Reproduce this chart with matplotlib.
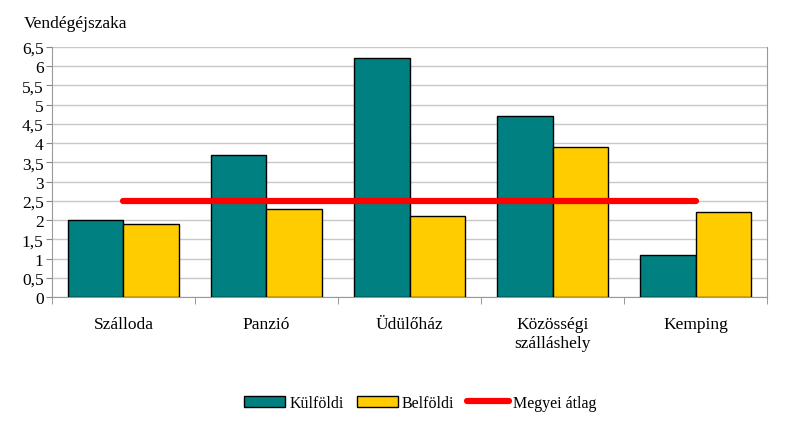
import numpy as np
import matplotlib
matplotlib.use("Agg")
import matplotlib.pyplot as plt

categories = ["Szálloda", "Panzió", "Üdülőház", "Közösségi\nszálláshely", "Kemping"]
kulfoldi = [2.0, 3.7, 6.2, 4.7, 1.1]
belfoldi = [1.9, 2.3, 2.1, 3.9, 2.2]
megyei_atlag = [2.5, 2.5, 2.5, 2.5, 2.5]
yticks = np.arange(0, 6.51, 0.5)

plt.rcParams["font.family"] = ["Liberation Serif", "DejaVu Serif"]
plt.rcParams["font.size"] = 12.5

fig = plt.figure(figsize=(7.91, 4.27), dpi=100)
ax = fig.add_axes([0.0657, 0.302, 0.904, 0.586])

x = np.arange(len(categories))
w = 0.39
b1 = ax.bar(x - w / 2, kulfoldi, w, color="#008080", edgecolor="black", lw=1, label="Külföldi", zorder=3)
b2 = ax.bar(x + w / 2, belfoldi, w, color="#FFCC00", edgecolor="black", lw=1, label="Belföldi", zorder=3)
ln, = ax.plot(x, megyei_atlag, color="#FF0000", lw=4.5, solid_capstyle="round", label="Megyei átlag", zorder=4)

ax.set_xlim(-0.5, len(categories) - 0.5)
ax.set_ylim(0, 6.5)
ax.set_yticks(yticks)
ax.set_yticklabels([f"{v:g}".replace(".", ",") for v in yticks])
ax.set_xticks(x)
ax.set_xticklabels(categories)
ax.set_xticks(np.arange(-0.5, len(categories)), minor=True)
ax.tick_params(axis="x", which="major", length=0, pad=14)
ax.tick_params(axis="x", which="minor", length=5, color="#888888")
ax.tick_params(axis="y", length=4, color="#888888", pad=2)
ax.grid(axis="y", color="#c8c8c8", lw=1, zorder=0)
ax.spines["top"].set_visible(False)
for s in ("left", "right", "bottom"):
    ax.spines[s].set_color("#999999")

ax.text(-0.04, 1.065, "Vendégéjszaka", transform=ax.transAxes, ha="left", va="bottom")

fig.legend([b1, b2, ln], ["Külföldi", "Belföldi", "Megyei átlag"],
           loc="center", bbox_to_anchor=(0.531, 0.054), ncol=3, frameon=False,
           fontsize=11.5, handlelength=2.6, handleheight=0.7, columnspacing=0.8, handletextpad=0.25)

fig.savefig("out.png", dpi=100)
